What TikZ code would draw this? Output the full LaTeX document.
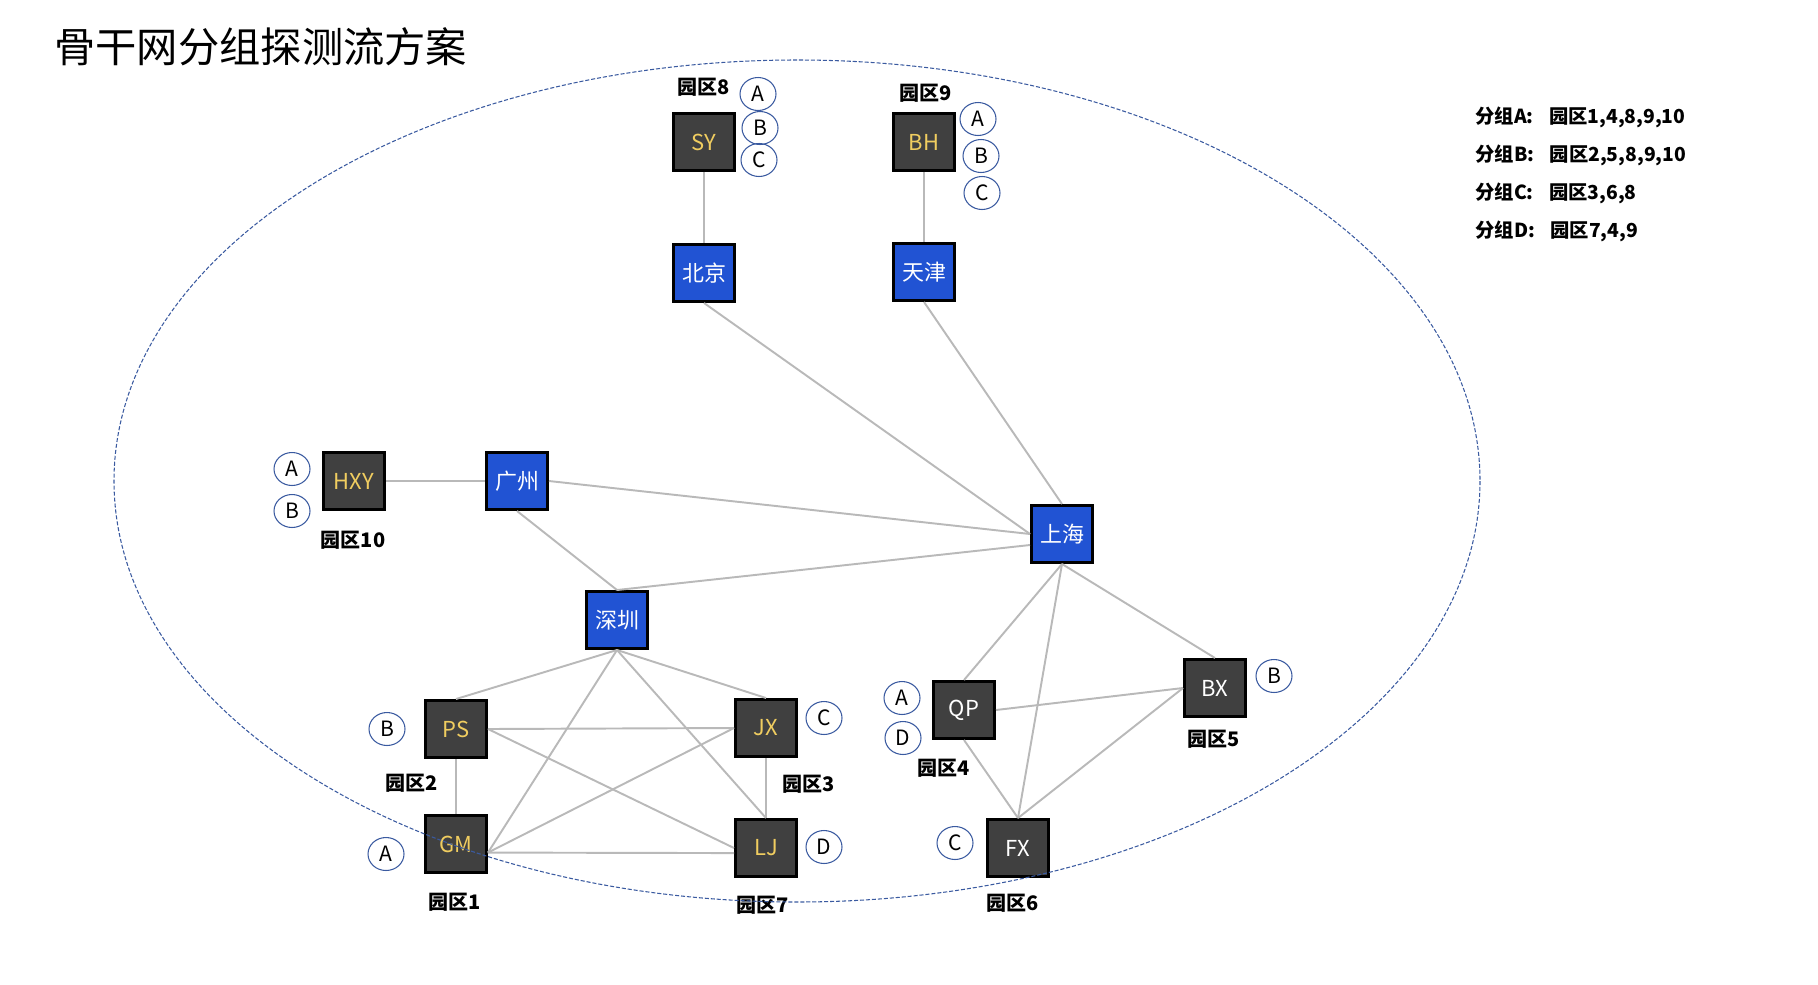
\documentclass[tikz,border=0pt]{standalone}
\usepackage{fontspec}
\setmainfont{Noto Sans CJK SC}
\usetikzlibrary{shapes.geometric}

\definecolor{citybl}{HTML}{2153D3}
\definecolor{sitegr}{HTML}{404040}
\definecolor{siteyl}{HTML}{F0CD60}
\definecolor{ringbl}{HTML}{3A5AA0}

\begin{document}
\begin{tikzpicture}[x=0.02cm, y=-0.02cm,
    box/.style={draw=black, line width=1.7pt, minimum width=1.22cm,
        minimum height=1.14cm, inner sep=0pt, font=\fontsize{12.5}{14}\selectfont},
    city/.style={box, fill=citybl, text=white},
    site/.style={box, fill=sitegr, text=siteyl},
    sitew/.style={box, fill=sitegr, text=white},
    tag/.style={ellipse, draw=ringbl, line width=0.6pt, minimum width=0.72cm,
        minimum height=0.66cm, inner sep=0pt, font=\fontsize{12}{14}\selectfont},
    park/.style={inner sep=0pt, font=\bfseries\fontsize{11.4}{13}\selectfont},
    legend/.style={park, anchor=west, font=\bfseries\fontsize{11}{13}\selectfont},
    link/.style={draw=gray!55, line width=1.1pt}]

    \useasboundingbox (0,0) rectangle (1818,984);

    \node[anchor=west, inner sep=0pt, font=\fontsize{23.5}{27}\selectfont] (title) at (54,47) {骨干网分组探测流方案};

    % backbone cities
    \node[city] (bj) at (704,273) {北京};
    \node[city] (tj) at (924,272) {天津};
    \node[city] (gz) at (517,481) {广州};
    \node[city] (sz) at (617,620) {深圳};
    \node[city] (sh) at (1062,534) {上海};

    % parks
    \node[site] (sy) at (704,142) {SY};
    \node[site] (bh) at (924,142) {BH};
    \node[site] (hxy) at (354,481) {HXY};
    \node[site] (ps) at (456,729) {PS};
    \node[site] (gm) at (456,844) {GM};
    \node[site] (jx) at (766,728) {JX};
    \node[site] (lj) at (766,848) {LJ};
    \node[sitew] (qp) at (964,710) {QP};
    \node[sitew] (bx) at (1215,688) {BX};
    \node[sitew] (fx) at (1018,848) {FX};

    \node[park] (p8) at (704,87) {园区8};
    \node[park] (p9) at (926,93) {园区9};
    \node[park] (p10) at (353,540) {园区10};
    \node[park] (p2) at (412,783) {园区2};
    \node[park] (p1) at (455,902) {园区1};
    \node[park] (p3) at (809,784) {园区3};
    \node[park] (p7) at (763,905) {园区7};
    \node[park] (p4) at (944,768) {园区4};
    \node[park] (p5) at (1214,739) {园区5};
    \node[park] (p6) at (1013,903) {园区6};

    % group tags
    \node[tag] (sya) at (758,94) {A};
    \node[tag] (syb) at (760,128) {B};
    \node[tag] (syc) at (759,160) {C};
    \node[tag] (bha) at (978,119) {A};
    \node[tag] (bhb) at (981,156) {B};
    \node[tag] (bhc) at (982,193) {C};
    \node[tag] (hxya) at (292,469) {A};
    \node[tag] (hxyb) at (292,511) {B};
    \node[tag] (psb) at (387,729) {B};
    \node[tag] (gma) at (386,854) {A};
    \node[tag] (jxc) at (824,718) {C};
    \node[tag] (ljd) at (824,847) {D};
    \node[tag] (qpa) at (902,698) {A};
    \node[tag] (qpd) at (903,738) {D};
    \node[tag] (bxb) at (1274,676) {B};
    \node[tag] (fxc) at (955,843) {C};

    % legend
    \node[legend] (lgA) at (1475,117) {分组A:\hspace{0.8em}园区1,4,8,9,10};
    \node[legend] (lgB) at (1475,155) {分组B:\hspace{0.8em}园区2,5,8,9,10};
    \node[legend] (lgC) at (1475,193) {分组C:\hspace{0.8em}园区3,6,8};
    \node[legend] (lgD) at (1475,231) {分组D:\hspace{0.8em}园区7,4,9};

    % links
    \draw[link] (sy.south) -- (bj.north);
    \draw[link] (bh.south) -- (tj.north);
    \draw[link] (bj.south) -- (sh.west);
    \draw[link] (tj.south) -- (sh.north);
    \draw[link] (hxy.east) -- (gz.west);
    \draw[link] (gz.east) -- (sh.west);
    \draw[link] (gz.south) -- (sz.north);
    \draw[link] (sz.north) -- (sh.199);
    \draw[link] (sz.south) -- (ps.north);
    \draw[link] (sz.south) -- (jx.north);
    \draw[link] (sz.south) -- (gm.345);
    \draw[link] (sz.south) -- (lj.north);
    \draw[link] (ps.east) -- (jx.west);
    \draw[link] (ps.east) -- (lj.west);
    \draw[link] (ps.south) -- (gm.north);
    \draw[link] (jx.west) -- (gm.345);
    \draw[link] (lj.189) -- (gm.345);
    \draw[link] (jx.south) -- (lj.north);
    \draw[link] (sh.south) -- (qp.north);
    \draw[link] (sh.south) -- (fx.north);
    \draw[link] (sh.south) -- (bx.north);
    \draw[link] (qp.east) -- (bx.west);
    \draw[link] (bx.west) -- (fx.north);
    \draw[link] (qp.south) -- (fx.north);

    % backbone ring
    \draw[ringbl, line width=0.6pt, dash pattern=on 2.3pt off 1.1pt]
        (797,481) ellipse [x radius=683, y radius=421];

\end{tikzpicture}
\end{document}
